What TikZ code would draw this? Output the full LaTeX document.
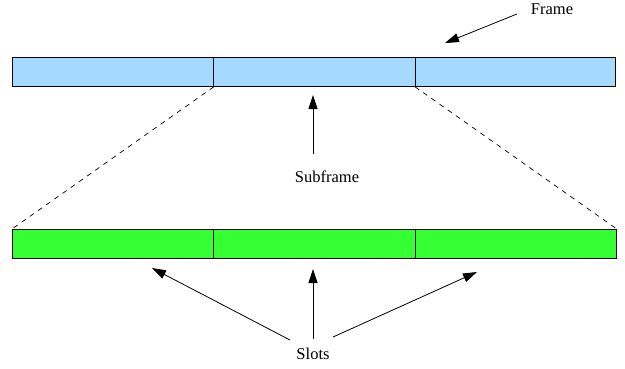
\documentclass[tikz,border=0pt]{standalone}
\usepackage{fontspec}
\setmainfont{Liberation Serif}
\newfontfamily\lblfont{Liberation Serif}
\usetikzlibrary{arrows.meta}
\definecolor{frameblue}{RGB}{166,217,255}
\definecolor{slotgreen}{RGB}{51,255,51}
\begin{document}
\begin{tikzpicture}[x=1pt,y=-1pt,
  cell/.style={draw=black,line width=0.8pt,minimum height=29pt,inner sep=0pt,anchor=north west},
  blue cell/.style={cell,fill=frameblue},
  green cell/.style={cell,fill=slotgreen},
  lbl/.style={font=\lblfont\fontsize{16.5}{20}\selectfont,inner sep=0pt},
  pointer/.style={line width=0.8pt,-{Triangle[length=14pt,width=9pt]}},
  zoomline/.style={line width=0.7pt,dash pattern=on 5pt off 5pt}]
\useasboundingbox (0,0) rectangle (625,368);
% top bar
\node[blue cell,minimum width=201pt] (t1) at (12,57) {};
\node[blue cell,minimum width=202pt] (t2) at (213,57) {};
\node[blue cell,minimum width=200pt] (t3) at (415,57) {};
% bottom bar
\node[green cell,minimum width=201pt] (b1) at (12,229) {};
\node[green cell,minimum width=202pt] (b2) at (213,229) {};
\node[green cell,minimum width=201pt] (b3) at (415,229) {};
% dashed zoom lines
\draw[zoomline] (t1.south east) -- (b1.north west);
\draw[zoomline] (t3.south west) -- (b3.north east);
% labels
\node[lbl] (frame) at (552,9) {Frame};
\node[lbl] (subframe) at (327,177) {Subframe};
\node[lbl] (slots) at (313,354) {Slots};
% arrow tails and heads
\coordinate (ftail) at (517,14);
\coordinate (fhead) at (445,43);
\coordinate (stail) at (313,154);
\coordinate (shead) at (313,95);
\coordinate (l1tail) at (290,340);
\coordinate (l1head) at (152,268);
\coordinate (l2tail) at (313,339);
\coordinate (l2head) at (313,269);
\coordinate (l3tail) at (333,337);
\coordinate (l3head) at (477,272);
\draw[pointer] (ftail) -- (fhead);
\draw[pointer] (stail) -- (shead);
\draw[pointer] (l1tail) -- (l1head);
\draw[pointer] (l2tail) -- (l2head);
\draw[pointer] (l3tail) -- (l3head);
\end{tikzpicture}
\end{document}
